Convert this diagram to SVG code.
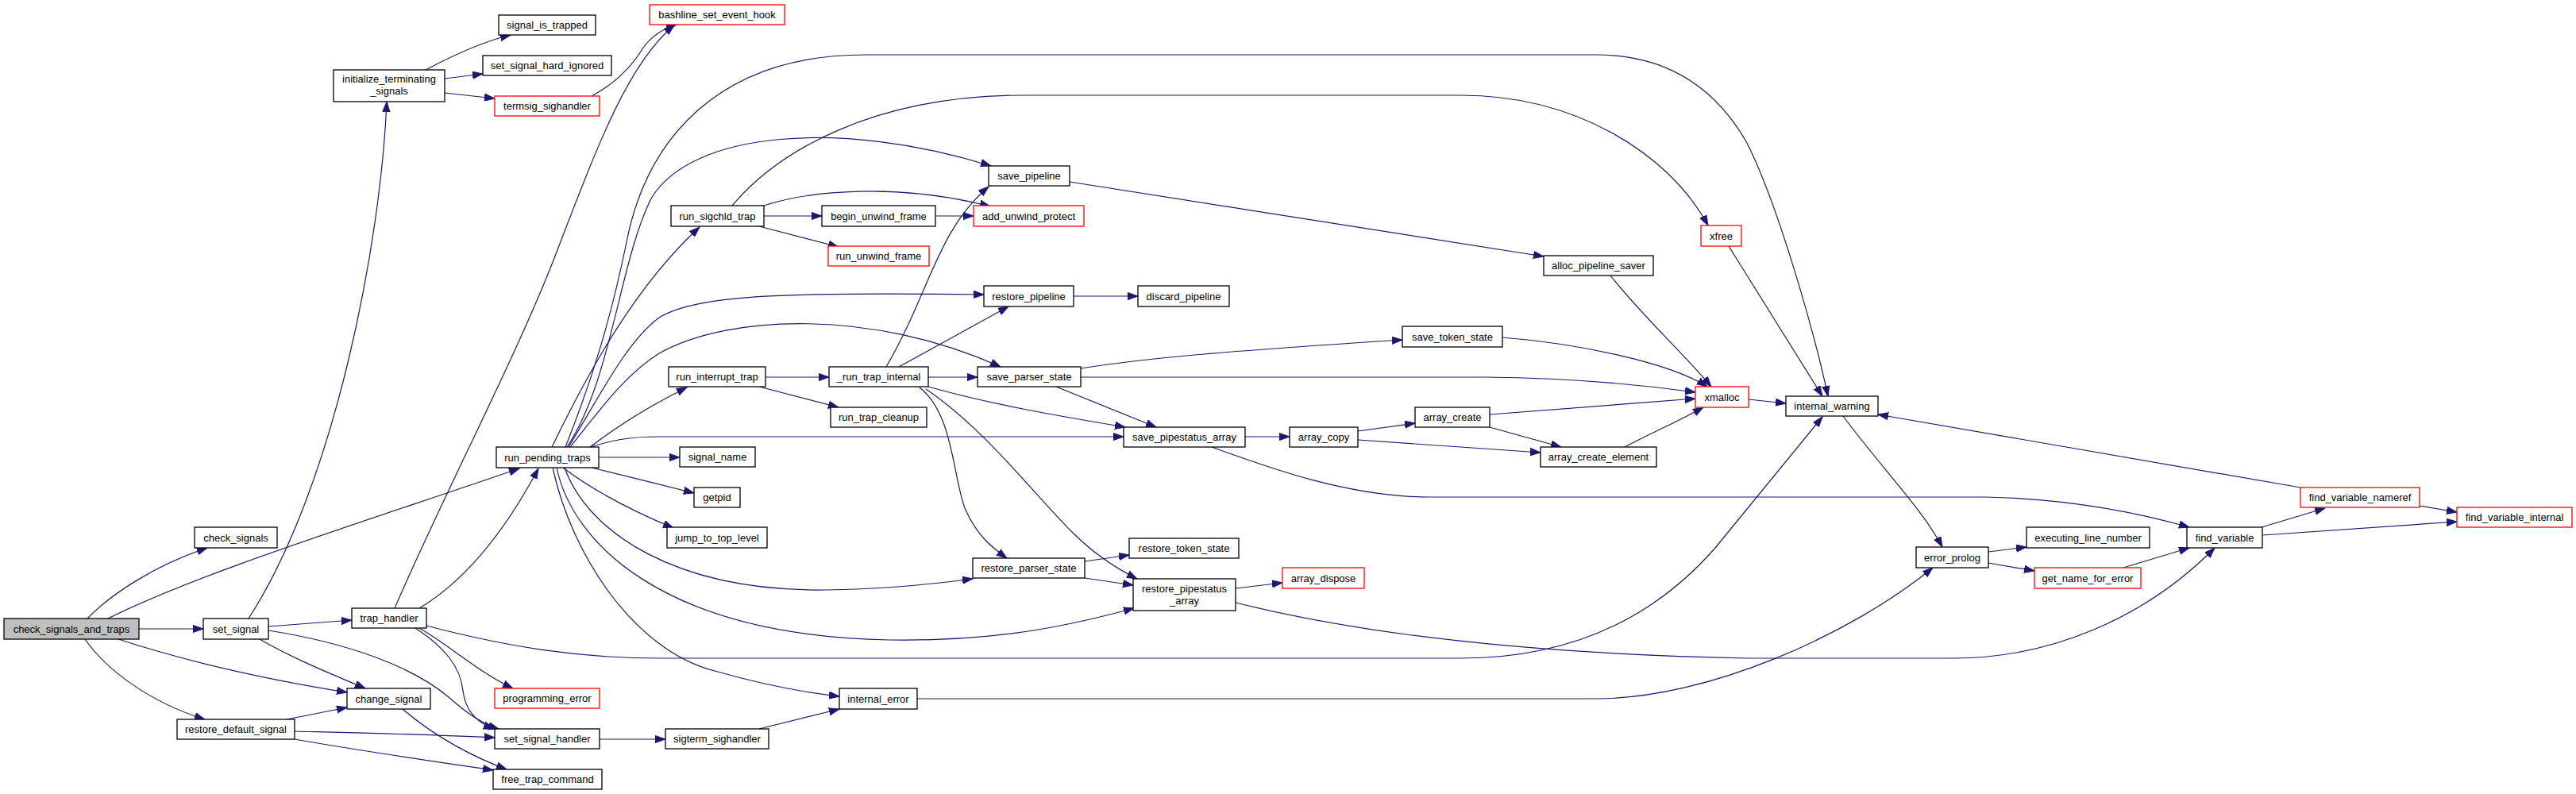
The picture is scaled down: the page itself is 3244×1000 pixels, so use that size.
<svg xmlns="http://www.w3.org/2000/svg" width="3244" height="1000" viewBox="0 0 3244 1000">
<style>
.n rect{fill:#fff;stroke:#000;stroke-width:1.3}
.r rect{fill:#fff;stroke:#f00;stroke-width:1.3}
.g rect{fill:#bfbfbf;stroke:#000;stroke-width:1.3}
text{font-family:"Liberation Sans",Arial,Helvetica,sans-serif;font-size:13px;fill:#000;text-anchor:middle}
.e path{fill:none;stroke:#191970;stroke-width:1.2;marker-end:url(#a)}
</style>
<defs>
<marker id="a" markerUnits="userSpaceOnUse" markerWidth="15" markerHeight="11" refX="13" refY="5" orient="auto">
<path d="M0,0.4 L13,5 L0,9.6 z" fill="#191970" stroke="#191970" stroke-width="1"/>
</marker>
</defs>
<rect width="3244" height="1000" fill="#fff"/>
<g id="edges" class="e">
<path d="M110,779 C140,748 195,712 261,690"/>
<path d="M136,779 C250,722 450,660 654,590"/>
<path d="M175,792 L256,792"/>
<path d="M149,805 C250,838 350,858 437,872"/>
<path d="M107,805 C135,845 190,885 258,906"/>
<path d="M313,779 C423,609 480,300 487,128"/>
<path d="M338,789 L443,781"/>
<path d="M327,805 C370,830 420,850 460,867"/>
<path d="M338,794 C440,810 520,840 565,878 C585,896 605,911 628,918"/>
<path d="M523,791 C560,815 580,840 583,870 C586,895 600,910 622,918"/>
<path d="M528,791 C565,812 600,845 646,867"/>
<path d="M528,766 C580,735 630,680 678,590"/>
<path d="M497,766 C560,620 650,450 700,320 C750,190 790,80 849,32"/>
<path d="M537,788 C640,815 730,829 830,829 L1840,829 C1990,829 2090,770 2160,690 L2295,525"/>
<path d="M361,906 L437,891"/>
<path d="M371,921 C450,923 540,925 623,929"/>
<path d="M371,931 C450,945 540,958 621,970"/>
<path d="M507,893 C550,930 600,955 638,969"/>
<path d="M536,88 C570,70 610,52 643,44"/>
<path d="M560,99 L608,93"/>
<path d="M560,117 L623,124"/>
<path d="M745,121 C775,105 795,85 810,60 C822,44 835,36 852,31"/>
<path d="M695,563 C740,470 800,360 881,286"/>
<path d="M714,563 C770,480 780,330 820,250 C870,165 1060,150 1248,209"/>
<path d="M712,563 C745,480 770,400 790,300 C815,180 900,69 1090,69 L2010,69 C2100,69 2160,110 2200,180 C2240,260 2285,420 2302,499"/>
<path d="M716,563 C760,490 790,430 830,400 C880,370 1000,368 1239,371"/>
<path d="M718,563 C760,510 790,470 830,445 C920,395 1100,390 1260,462"/>
<path d="M743,563 C780,535 820,510 865,488"/>
<path d="M743,563 C770,555 790,550 830,550 L1415,550"/>
<path d="M754,576 L856,576"/>
<path d="M745,589 C790,600 830,610 874,621"/>
<path d="M709,589 C750,620 800,645 848,665"/>
<path d="M711,589 C740,670 850,745 1040,743 C1120,742 1180,735 1225,729"/>
<path d="M701,589 C720,680 830,800 1120,806 C1250,808 1340,790 1428,766"/>
<path d="M696,589 C720,700 800,820 900,845 C960,862 1010,872 1057,877"/>
<path d="M962,272 L1035,272"/>
<path d="M962,259 C1020,240 1130,230 1247,260"/>
<path d="M956,285 L1056,311"/>
<path d="M922,259 C980,190 1100,120 1290,120 L1840,120 C1980,120 2100,190 2151,284"/>
<path d="M1178,272 L1226,272"/>
<path d="M964,475 L1044,475"/>
<path d="M956,487 L1056,513"/>
<path d="M1132,462 L1270,386"/>
<path d="M1169,475 L1231,475"/>
<path d="M1116,462 C1170,370 1180,290 1245,235"/>
<path d="M1169,487 C1250,510 1340,525 1417,538"/>
<path d="M1158,488 C1200,520 1200,600 1215,640 C1230,675 1250,690 1268,703"/>
<path d="M1166,490 C1240,540 1300,620 1350,670 C1380,700 1410,718 1432,729"/>
<path d="M1347,229 L1944,323"/>
<path d="M1352,373 L1433,373"/>
<path d="M1361,464 C1450,450 1550,442 1766,428"/>
<path d="M1361,475 L1870,475 C1980,476 2070,485 2135,494"/>
<path d="M1330,487 L1456,538"/>
<path d="M1366,707 L1422,699"/>
<path d="M1366,728 L1427,737"/>
<path d="M1556,741 L1615,734"/>
<path d="M1556,759 C1700,795 1900,823 2200,829 L2460,829 C2580,829 2700,780 2789,690"/>
<path d="M1568,550 L1624,550"/>
<path d="M1526,563 C1600,590 1700,626 1800,626 L2500,626 C2600,628 2690,645 2757,664"/>
<path d="M1710,543 L1782,533"/>
<path d="M1710,554 L1940,570"/>
<path d="M1876,522 L2135,502"/>
<path d="M1876,538 L1966,563"/>
<path d="M2046,563 C2080,545 2115,530 2145,513"/>
<path d="M1892,425 C1980,432 2100,455 2150,487"/>
<path d="M2028,347 C2070,400 2120,445 2155,487"/>
<path d="M2177,310 L2295,499"/>
<path d="M2202,503 L2249,508"/>
<path d="M2321,524 C2370,590 2420,640 2446,689"/>
<path d="M1155,880 L2010,880 C2150,880 2330,800 2434,715"/>
<path d="M2504,695 L2552,689"/>
<path d="M2504,709 L2562,719"/>
<path d="M2674,715 L2757,690"/>
<path d="M2848,664 L2928,640"/>
<path d="M2849,674 L3094,657"/>
<path d="M3047,637 L3094,645"/>
<path d="M2897,614 L2365,522"/>
<path d="M755,931 L838,931"/>
<path d="M956,918 L1057,893"/>
</g>
<g id="check_signals_and_traps" class="g"><rect x="5" y="779" width="170" height="26"/><text x="90" y="796.5">check_signals_and_traps</text></g>
<g id="check_signals" class="n"><rect x="245" y="664" width="104" height="26"/><text x="297" y="681.5">check_signals</text></g>
<g id="set_signal" class="n"><rect x="256" y="779" width="82" height="26"/><text x="297" y="796.5">set_signal</text></g>
<g id="restore_default_signal" class="n"><rect x="223" y="906" width="148" height="25"/><text x="297" y="923">restore_default_signal</text></g>
<g id="initialize_terminating_signals" class="n"><rect x="420" y="88" width="140" height="40"/><text x="490" y="104">initialize_terminating</text><text x="490" y="119">_signals</text></g>
<g id="trap_handler" class="n"><rect x="443" y="766" width="94" height="25"/><text x="490" y="783">trap_handler</text></g>
<g id="change_signal" class="n"><rect x="437" y="867" width="105" height="26"/><text x="489.5" y="884.5">change_signal</text></g>
<g id="signal_is_trapped" class="n"><rect x="628" y="19" width="122" height="25"/><text x="689" y="36">signal_is_trapped</text></g>
<g id="set_signal_hard_ignored" class="n"><rect x="608" y="70" width="162" height="25"/><text x="689" y="87">set_signal_hard_ignored</text></g>
<g id="termsig_sighandler" class="r"><rect x="623" y="121" width="132" height="25"/><text x="689" y="138">termsig_sighandler</text></g>
<g id="run_pending_traps" class="n"><rect x="625" y="563" width="129" height="26"/><text x="689.5" y="580.5">run_pending_traps</text></g>
<g id="programming_error" class="r"><rect x="623" y="867" width="132" height="25"/><text x="689" y="884">programming_error</text></g>
<g id="set_signal_handler" class="n"><rect x="623" y="918" width="132" height="25"/><text x="689" y="935">set_signal_handler</text></g>
<g id="free_trap_command" class="n"><rect x="621" y="969" width="137" height="25"/><text x="689.5" y="986">free_trap_command</text></g>
<g id="bashline_set_event_hook" class="r"><rect x="818" y="6" width="170" height="25"/><text x="903" y="23">bashline_set_event_hook</text></g>
<g id="run_sigchld_trap" class="n"><rect x="845" y="259" width="117" height="26"/><text x="903.5" y="276.5">run_sigchld_trap</text></g>
<g id="run_interrupt_trap" class="n"><rect x="842" y="462" width="122" height="25"/><text x="903" y="479">run_interrupt_trap</text></g>
<g id="signal_name" class="n"><rect x="856" y="563" width="95" height="25"/><text x="903.5" y="580">signal_name</text></g>
<g id="getpid" class="n"><rect x="874" y="614" width="58" height="25"/><text x="903" y="631">getpid</text></g>
<g id="jump_to_top_level" class="n"><rect x="840" y="664" width="126" height="26"/><text x="903" y="681.5">jump_to_top_level</text></g>
<g id="sigterm_sighandler" class="n"><rect x="838" y="918" width="130" height="25"/><text x="903" y="935">sigterm_sighandler</text></g>
<g id="begin_unwind_frame" class="n"><rect x="1035" y="259" width="143" height="26"/><text x="1106.5" y="276.5">begin_unwind_frame</text></g>
<g id="run_unwind_frame" class="r"><rect x="1043" y="310" width="127" height="25"/><text x="1106.5" y="327">run_unwind_frame</text></g>
<g id="_run_trap_internal" class="n"><rect x="1044" y="462" width="125" height="25"/><text x="1106.5" y="479">_run_trap_internal</text></g>
<g id="run_trap_cleanup" class="n"><rect x="1046" y="513" width="121" height="25"/><text x="1106.5" y="530">run_trap_cleanup</text></g>
<g id="internal_error" class="n"><rect x="1057" y="867" width="98" height="26"/><text x="1106" y="884.5">internal_error</text></g>
<g id="save_pipeline" class="n"><rect x="1245" y="209" width="102" height="25"/><text x="1296" y="226">save_pipeline</text></g>
<g id="add_unwind_protect" class="r"><rect x="1226" y="259" width="139" height="26"/><text x="1295.5" y="276.5">add_unwind_protect</text></g>
<g id="restore_pipeline" class="n"><rect x="1239" y="360" width="113" height="26"/><text x="1295.5" y="377.5">restore_pipeline</text></g>
<g id="save_parser_state" class="n"><rect x="1231" y="462" width="130" height="25"/><text x="1296" y="479">save_parser_state</text></g>
<g id="restore_parser_state" class="n"><rect x="1225" y="703" width="141" height="25"/><text x="1295.5" y="720">restore_parser_state</text></g>
<g id="discard_pipeline" class="n"><rect x="1433" y="360" width="115" height="26"/><text x="1490.5" y="377.5">discard_pipeline</text></g>
<g id="save_pipestatus_array" class="n"><rect x="1415" y="538" width="153" height="25"/><text x="1491.5" y="555">save_pipestatus_array</text></g>
<g id="restore_token_state" class="n"><rect x="1422" y="678" width="138" height="25"/><text x="1491" y="695">restore_token_state</text></g>
<g id="restore_pipestatus_array" class="n"><rect x="1427" y="729" width="129" height="40"/><text x="1491.5" y="745.5">restore_pipestatus</text><text x="1491.5" y="760.5">_array</text></g>
<g id="array_dispose" class="r"><rect x="1615" y="715" width="103" height="26"/><text x="1666.5" y="732.5">array_dispose</text></g>
<g id="array_copy" class="n"><rect x="1624" y="538" width="86" height="25"/><text x="1667" y="555">array_copy</text></g>
<g id="save_token_state" class="n"><rect x="1766" y="411" width="126" height="26"/><text x="1829" y="428.5">save_token_state</text></g>
<g id="array_create" class="n"><rect x="1782" y="513" width="94" height="25"/><text x="1829" y="530">array_create</text></g>
<g id="alloc_pipeline_saver" class="n"><rect x="1944" y="322" width="138" height="25"/><text x="2013" y="339">alloc_pipeline_saver</text></g>
<g id="array_create_element" class="n"><rect x="1940" y="563" width="146" height="25"/><text x="2013" y="580">array_create_element</text></g>
<g id="xfree" class="r"><rect x="2142" y="284" width="51" height="26"/><text x="2167.5" y="301.5">xfree</text></g>
<g id="xmalloc" class="r"><rect x="2135" y="487" width="67" height="26"/><text x="2168.5" y="504.5">xmalloc</text></g>
<g id="internal_warning" class="n"><rect x="2249" y="499" width="116" height="25"/><text x="2307" y="516">internal_warning</text></g>
<g id="error_prolog" class="n"><rect x="2413" y="689" width="91" height="26"/><text x="2458.5" y="706.5">error_prolog</text></g>
<g id="executing_line_number" class="n"><rect x="2552" y="664" width="155" height="26"/><text x="2629.5" y="681.5">executing_line_number</text></g>
<g id="get_name_for_error" class="r"><rect x="2562" y="715" width="134" height="26"/><text x="2629" y="732.5">get_name_for_error</text></g>
<g id="find_variable" class="n"><rect x="2754" y="664" width="95" height="26"/><text x="2801.5" y="681.5">find_variable</text></g>
<g id="find_variable_nameref" class="r"><rect x="2897" y="614" width="150" height="25"/><text x="2972" y="631">find_variable_nameref</text></g>
<g id="find_variable_internal" class="r"><rect x="3094" y="639" width="145" height="25"/><text x="3166.5" y="656">find_variable_internal</text></g>
</svg>
